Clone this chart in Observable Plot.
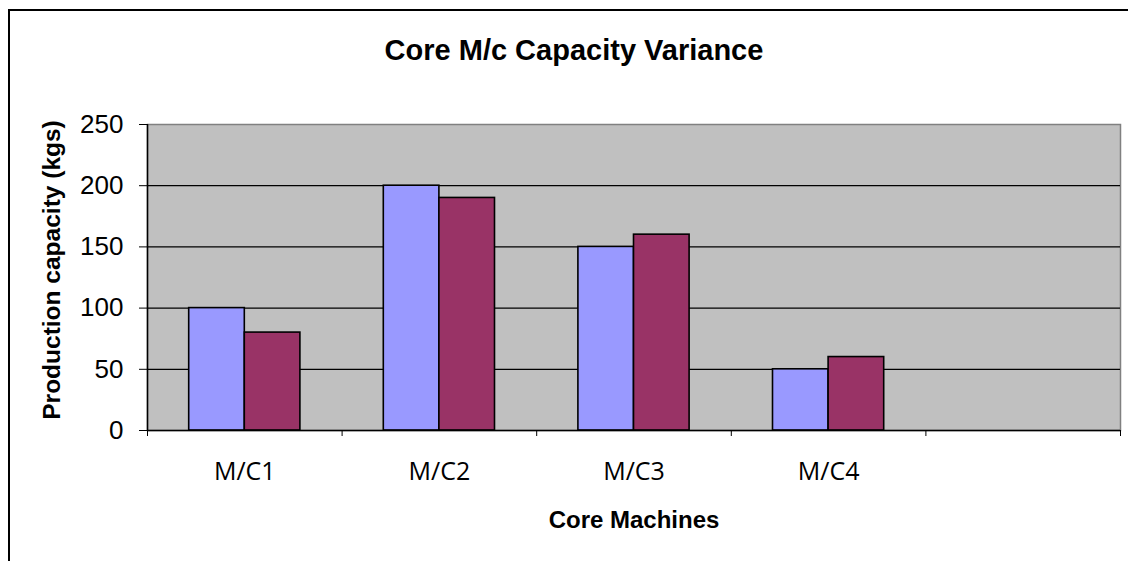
<!DOCTYPE html>
<html>
<head>
<meta charset="utf-8">
<script src="https://cdn.jsdelivr.net/npm/d3@7"></script>
<script src="https://cdn.jsdelivr.net/npm/@observablehq/plot@0.6"></script>
<style>
  html, body { margin: 0; padding: 0; background: #fff; overflow: hidden; }
  #wrap { position: relative; width: 1128px; height: 561px; overflow: hidden; }
  #border { position: absolute; left: 8px; top: 9px; width: 1300px; height: 800px; border: 2.5px solid #000; box-sizing: border-box; }
  #chart { position: absolute; left: 0; top: 0; }
</style>
</head>
<body>
<div id="wrap"><div id="border"></div><div id="chart"></div></div>
<script>
// Data
const categories = ["M/C1", "M/C2", "M/C3", "M/C4", ""];
const seriesNames = ["Series1", "Series2"];
const series1 = [100, 200, 150, 50, null];
const series2 = [80, 190, 160, 60, null];
const yTicks = [0, 50, 100, 150, 200, 250];
const titleText = "Core M/c Capacity Variance";
const xTitle = "Core Machines";
const yTitle = "Production capacity (kgs)";
const colors = ["#9999FF", "#993366"];

const gapWidth = 1.5; // Excel-style gap width between groups
const slot = 1 / (2 + gapWidth);

const rows = [];
categories.forEach((c, i) => {
  [series1, series2].forEach((s, k) => {
    if (s[i] != null) {
      const x1 = i + (gapWidth / 2 + k) * slot;
      rows.push({cat: c, series: seriesNames[k], value: s[i], x1, x2: x1 + slot});
    }
  });
});

const W = 1128, H = 561;
const plot = Plot.plot({
  width: W, height: H,
  marginLeft: 147, marginRight: 8, marginTop: 124, marginBottom: 131,
  style: {background: "transparent", overflow: "visible"},
  x: {type: "linear", domain: [0, categories.length], axis: null},
  y: {domain: [0, 250], axis: null},
  color: {domain: seriesNames, range: colors},
  marks: [
    Plot.frame({fill: "#C0C0C0", stroke: "#808080", strokeWidth: 1.5}),
    Plot.gridY(yTicks.filter(d => d > 0 && d < 250), {stroke: "#000", strokeOpacity: 1, strokeWidth: 1.3}),
    Plot.rectY(rows, {x1: "x1", x2: "x2", y: "value", fill: "series", stroke: "#000", strokeWidth: 1.6}),
    Plot.ruleY([0], {stroke: "#000", strokeWidth: 1.5}),
    Plot.ruleX([0], {stroke: "#000", strokeWidth: 1.5}),
    Plot.axisY({ticks: yTicks, tickSize: 8, tickPadding: 16, fontSize: 26, fontFamily: "Liberation Sans, Arial, sans-serif", label: null, stroke: "#000"}),
    Plot.axisX({ticks: d3.range(categories.length + 1), tickSize: 6, tickFormat: () => "", label: null}),
    Plot.axisX({ticks: categories.map((c, i) => i + 0.5), tickSize: 0, tickPadding: 32, tickFormat: d => categories[Math.floor(d)], fontSize: 25, fontFamily: "Open Sans, sans-serif", label: null})
  ]
});
document.getElementById("chart").appendChild(plot);

const svg = d3.select(plot);
svg.append("text")
  .attr("x", 574).attr("y", 60)
  .attr("text-anchor", "middle")
  .attr("font-family", "Liberation Sans, Arial, sans-serif")
  .attr("font-weight", "bold").attr("font-size", 29)
  .attr("fill", "#000")
  .text(titleText);
svg.append("text")
  .attr("x", 634).attr("y", 528)
  .attr("text-anchor", "middle")
  .attr("font-family", "Liberation Sans, Arial, sans-serif")
  .attr("font-weight", "bold").attr("font-size", 24)
  .attr("fill", "#000")
  .text(xTitle);
svg.append("text")
  .attr("transform", "translate(60,270) rotate(-90)")
  .attr("text-anchor", "middle")
  .attr("font-family", "Liberation Sans, Arial, sans-serif")
  .attr("font-weight", "bold").attr("font-size", 24.5)
  .attr("fill", "#000")
  .text(yTitle);
</script>
</body>
</html>
